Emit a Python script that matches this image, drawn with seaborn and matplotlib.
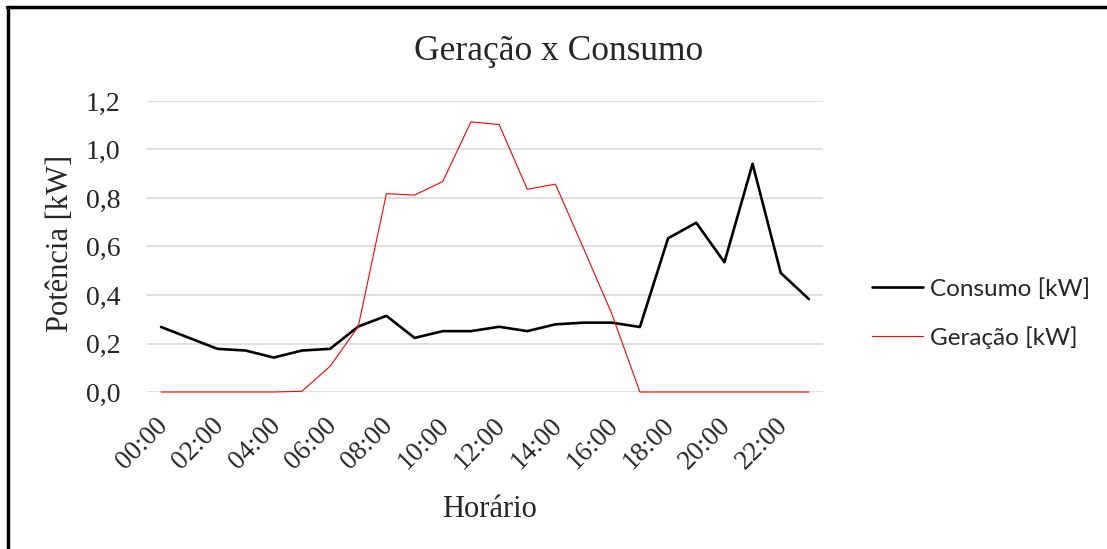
import matplotlib
matplotlib.use("Agg")
import matplotlib.pyplot as plt
import matplotlib.transforms as mtrans
from matplotlib.lines import Line2D
import seaborn as sns
import pandas as pd
import numpy as np

horas = list(range(24))
rotulos = ["00:00", "02:00", "04:00", "06:00", "08:00", "10:00",
           "12:00", "14:00", "16:00", "18:00", "20:00", "22:00"]
consumo = [0.268, 0.223, 0.178, 0.171, 0.142, 0.171, 0.178, 0.270,
           0.314, 0.223, 0.251, 0.251, 0.269, 0.251, 0.279, 0.286,
           0.286, 0.268, 0.634, 0.698, 0.535, 0.941, 0.491, 0.383]
geracao = [0.0, 0.0, 0.0, 0.0, 0.0, 0.003, 0.106, 0.270,
           0.818, 0.812, 0.868, 1.114, 1.103, 0.836, 0.857, 0.592,
           0.323, 0.0, 0.0, 0.0, 0.0, 0.0, 0.0, 0.0]
yticks = [0.0, 0.2, 0.4, 0.6, 0.8, 1.0, 1.2]

sns.set_theme(style="white")
plt.rcParams['font.family'] = 'serif'
plt.rcParams['font.serif'] = ['Liberation Serif', 'DejaVu Serif']

df_c = pd.DataFrame({"hora": horas, "valor": consumo})
df_g = pd.DataFrame({"hora": horas, "valor": geracao})

W, H = 1107, 549
fig = plt.figure(figsize=(W/100, H/100), dpi=100)
ax = fig.add_axes([147/W, 1-392/H, (823-147)/W, (392-101)/H])

ax.set_axisbelow(True)
ax.yaxis.grid(True, color="#d9d9d9", linewidth=1.2)
ax.xaxis.grid(False)

sns.lineplot(data=df_c, x="hora", y="valor", ax=ax, color="black",
             linewidth=1.9, label="Consumo [kW]", clip_on=False)
sns.lineplot(data=df_g, x="hora", y="valor", ax=ax, color="#ff0000",
             linewidth=0.8, label="Geração [kW]", clip_on=False)

ax.set_xlim(-0.5, 23.5)
ax.set_ylim(0, 1.2)
ax.set_yticks(yticks)
ax.set_yticklabels([f"{v:.1f}".replace(".", ",") for v in yticks], fontsize=20)
ax.set_xticks(list(range(0, 24, 2)))
ax.set_xticklabels(rotulos, rotation=45, ha="right", va="top",
                   rotation_mode="anchor", fontsize=19.5)
ax.tick_params(axis="y", length=0, pad=19)
ax.tick_params(axis="x", length=0, pad=15)
shift = mtrans.ScaledTranslation(-6/100, 0, fig.dpi_scale_trans)
for lbl in ax.get_xticklabels():
    lbl.set_transform(lbl.get_transform() + shift)
for s in ax.spines.values():
    s.set_visible(False)
ax.set_xlabel("")
ax.set_ylabel("")

fig.text(559/W, 1-60/H, "Geração x Consumo", fontsize=25.5, ha="center",
         va="baseline")
fig.text(490/W, 1-517/H, "Horário", fontsize=22, ha="center", va="baseline")
fig.text(61/W, 1-243/H, "Potência [kW]", fontsize=22, ha="center",
         va="center", rotation=90)

leg = ax.legend(loc="center left", bbox_to_anchor=((872 - 147)/676, (392-313.5)/291),
                frameon=False, prop={"family": "Lato", "size": 17.5},
                handlelength=2.1, labelspacing=1.1, handletextpad=0.28,
                borderaxespad=0, borderpad=0)

# figure frame (top and left borders)
fig.add_artist(Line2D([7/W, 1], [1-7/H, 1-7/H], color="black",
                      linewidth=2.5, transform=fig.transFigure))
fig.add_artist(Line2D([8/W, 8/W], [0, 1-7/H], color="black",
                      linewidth=2.5, transform=fig.transFigure))

fig.savefig("out.png", dpi=100)
